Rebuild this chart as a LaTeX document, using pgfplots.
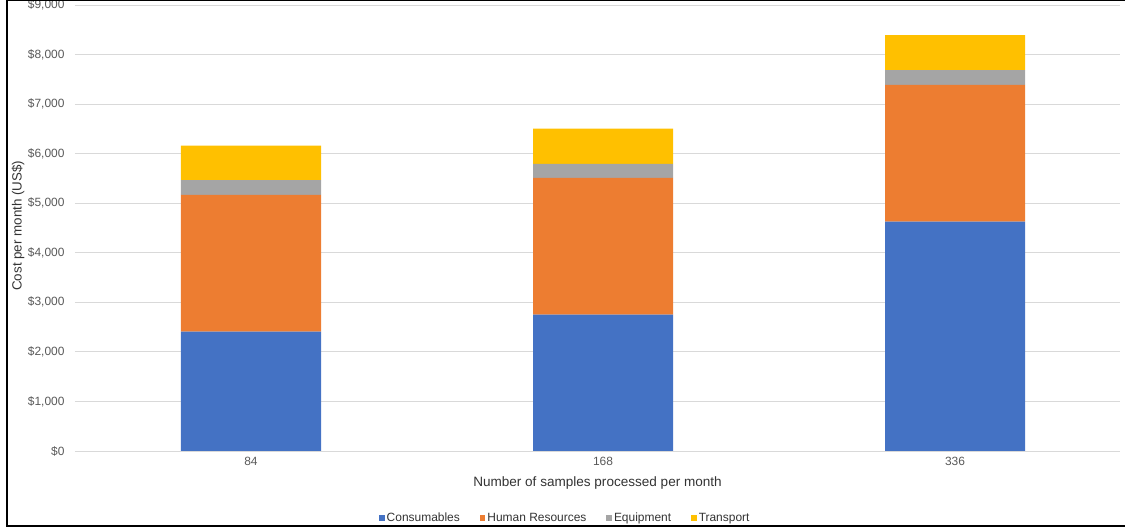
\documentclass[border=0pt]{standalone}
\usepackage{pgfplots}
\pgfplotsset{compat=1.18}
\usepackage{fontspec}
\setmainfont{Liberation Sans}
\definecolor{cBlue}{HTML}{4472C4}
\definecolor{cOrange}{HTML}{ED7D31}
\definecolor{cGray}{HTML}{A5A5A5}
\definecolor{cYellow}{HTML}{FFC000}
\definecolor{cGrid}{HTML}{D9D9D9}
\definecolor{cText}{HTML}{595959}
\begin{document}
\begin{tikzpicture}[x=1bp,y=1bp]
\begin{axis}[
  at={(0,0)}, anchor=south west,
  scale only axis, width=1045bp, height=446bp,
  ybar stacked, bar width=140bp,
  xmin=-0.5, xmax=2.4688, ymin=0, ymax=9000,
  xtick={0,1,2}, xticklabels={84,168,336},
  ytick={0,1000,...,9000},
  yticklabels={\$0,\$1{,}000,\$2{,}000,\$3{,}000,\$4{,}000,\$5{,}000,\$6{,}000,\$7{,}000,\$8{,}000,\$9{,}000},
  ymajorgrids, grid style={draw=cGrid, line width=0.9bp},
  axis line style={draw=none}, major tick length=0pt,
  tick label style={font=\fontsize{12}{14}\selectfont, text=cText},
  yticklabel style={xshift=-7bp},
  xticklabel style={yshift=-3bp},
  xlabel={Number of samples processed per month},
  xlabel style={at={(rel axis cs:0.5,0)}, anchor=center, yshift=-32bp, font=\fontsize{13.6}{15}\selectfont, text=black!80},
  ylabel={Cost per month (US\$)},
  ylabel style={at={(rel axis cs:0,0.505)}, anchor=center, yshift=57bp, font=\fontsize{13.4}{15}\selectfont, text=black!80},
  legend columns=-1,
  legend style={at={(rel axis cs:0.288,0)}, anchor=west, yshift=-67bp, draw=none, fill=none,
    font=\fontsize{12}{14}\selectfont, text=black!80,
    /tikz/every even column/.append style={column sep=18bp}},
  legend image code/.code={\fill[#1] (0bp,-2.8bp) rectangle (5.6bp,2.8bp);},
]
\addplot[fill=cBlue, draw=none] coordinates {(0,2410) (1,2750) (2,4630)};
\addplot[fill=cOrange, draw=none] coordinates {(0,2760) (1,2760) (2,2760)};
\addplot[fill=cGray, draw=none] coordinates {(0,295) (1,285) (2,297)};
\addplot[fill=cYellow, draw=none] coordinates {(0,695) (1,710) (2,703)};
\legend{Consumables,Human Resources,Equipment,Transport}
\end{axis}
\draw[line width=2.2bp, black] (-68,-75) -- (1060,-75);
\draw[line width=2.2bp, black] (-68,-76) -- (-68,452);
\draw[line width=1bp, black] (-68,450.5) -- (1060,450.5);
\pgfresetboundingbox
\path[use as bounding box] (-75,-79) rectangle (1050,451);
\end{tikzpicture}
\end{document}
